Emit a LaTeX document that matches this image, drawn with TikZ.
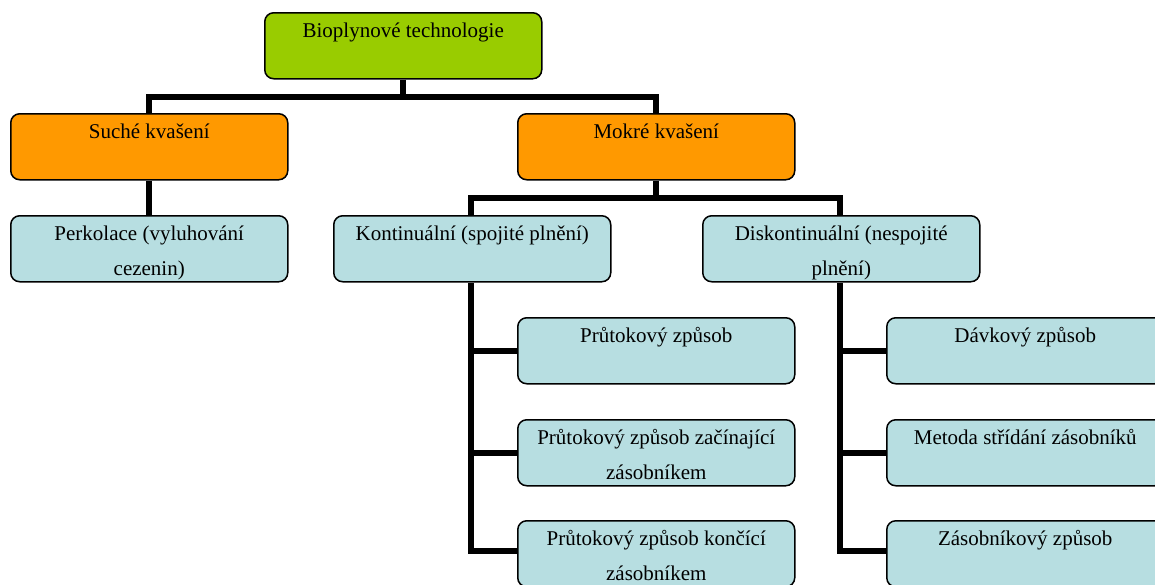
\documentclass[tikz,border=0pt]{standalone}
\usepackage{fontspec}
\usetikzlibrary{calc}
\setmainfont{Liberation Serif}
\definecolor{gr}{HTML}{99CC00}
\definecolor{orn}{HTML}{FF9900}
\definecolor{lb}{HTML}{B7DEE1}
\newcommand{\bxtext}[1]{\parbox[t][66pt][t]{277pt}{\centering\fontsize{21}{35}\selectfont\strut #1}}
\tikzset{
  box/.style={draw=black, line width=1.5pt, rounded corners=9pt, inner sep=0pt, anchor=north west},
  conn/.style={draw=black, line width=6pt}
}
\begin{document}
\begin{tikzpicture}[x=1pt,y=-1pt]
\useasboundingbox (0,0) rectangle (1155,584);
\clip (0,0) rectangle (1155,584);
% boxes
\node[box, fill=gr] (top) at (264,12) {\bxtext{Bioplynové technologie}};
\node[box, fill=orn] (such) at (10,113) {\bxtext{Suché kvašení}};
\node[box, fill=orn] (mokr) at (517,113) {\bxtext{Mokré kvašení}};
\node[box, fill=lb] (perk) at (10,215) {\bxtext{Perkolace (vyluhování\\cezenin)}};
\node[box, fill=lb] (kont) at (333,215) {\bxtext{Kontinuální (spojité plnění)}};
\node[box, fill=lb] (disk) at (702,215) {\bxtext{Diskontinuální (nespojité\\plnění)}};
\node[box, fill=lb] (pr1) at (517,317) {\bxtext{Průtokový způsob}};
\node[box, fill=lb] (pr2) at (517,419) {\bxtext{Průtokový způsob začínající\\zásobníkem}};
\node[box, fill=lb] (pr3) at (517,520) {\bxtext{Průtokový způsob končící\\zásobníkem}};
\node[box, fill=lb] (dav) at (886,317) {\bxtext{Dávkový způsob}};
\node[box, fill=lb] (met) at (886,419) {\bxtext{Metoda střídání zásobníků}};
\node[box, fill=lb] (zas) at (886,520) {\bxtext{Zásobníkový způsob}};
% junction points
\coordinate (j1) at ($(top.south)+(0,17)$);
\coordinate (j2) at ($(mokr.south)+(0,17)$);
\coordinate (kt) at (471,283);
\coordinate (kv) at (471,551);
\coordinate (dt) at (840,283);
\coordinate (dv) at (840,551);
% connectors
\draw[conn] (top.south) -- (j1);
\draw[conn] (such.north) |- (j1) -| (mokr.north);
\draw[conn] (such.south) -- (perk.north);
\draw[conn] (mokr.south) -- (j2);
\draw[conn] (kont.north -| kt) |- (j2) -| (disk.north -| dt);
\draw[conn] (kt) -- (kv) -- (pr3.west |- kv);
\draw[conn] (kt |- pr1.west) -- (pr1.west);
\draw[conn] (kt |- pr2.west) -- (pr2.west);
\draw[conn] (dt) -- (dv) -- (zas.west |- dv);
\draw[conn] (dt |- dav.west) -- (dav.west);
\draw[conn] (dt |- met.west) -- (met.west);
\end{tikzpicture}
\end{document}
